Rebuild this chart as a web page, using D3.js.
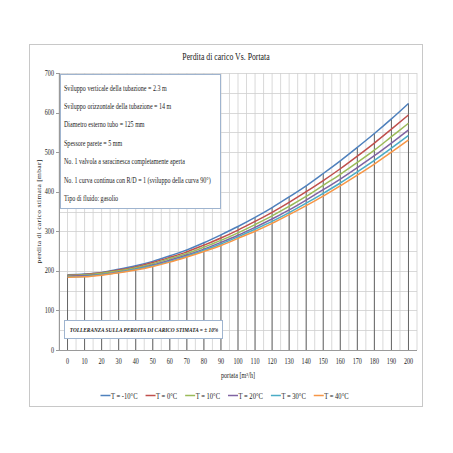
<!DOCTYPE html>
<html>
<head>
<meta charset="utf-8">
<script src="https://cdn.jsdelivr.net/npm/d3@7"></script>
<style>
  body { margin: 0; background: #fff; }
  text { font-family: "Liberation Serif", "Times New Roman", serif; fill: #222; }
</style>
</head>
<body>
<div id="chart"></div>
<script>
// portata [m3/h]
const portata = [0, 10, 20, 30, 40, 50, 60, 70, 80, 90, 100, 110, 120, 130, 140, 150, 160, 170, 180, 190, 200];

// perdita di carico [mbar] for each temperature
const tMinus10 = [190, 192, 196, 204, 213, 224, 238, 253, 271, 291, 312, 335, 360, 387, 415, 446, 478, 512, 547, 584, 623];
const t0 = [189, 191, 195, 202, 210, 221, 234, 248, 265, 283, 303, 325, 348, 373, 400, 428, 458, 490, 523, 558, 594];
const t10 = [188, 190, 194, 200, 208, 218, 231, 244, 260, 277, 296, 317, 339, 363, 388, 416, 444, 474, 505, 539, 573];
const t20 = [186, 188, 191, 197, 205, 215, 227, 240, 255, 272, 290, 310, 331, 354, 379, 405, 432, 461, 491, 523, 556];
const t30 = [185, 186, 190, 196, 204, 213, 224, 237, 252, 268, 286, 305, 325, 347, 371, 396, 422, 450, 479, 510, 542];
const t40 = [184, 185, 189, 195, 202, 211, 222, 235, 249, 264, 282, 300, 320, 342, 365, 389, 415, 442, 470, 500, 531];

const seriesNames = ["T = -10°C", "T = 0°C", "T = 10°C", "T = 20°C", "T = 30°C", "T = 40°C"];
const seriesValues = [tMinus10, t0, t10, t20, t30, t40];
const seriesColors = ["#4F81BD", "#C0504D", "#9BBB59", "#8064A2", "#4BACC6", "#F79646"];

const yTicks = [0, 100, 200, 300, 400, 500, 600, 700];

const infoLines = [
  "Sviluppo verticale della tubazione = 2.3 m",
  "Sviluppo orizzontale della tubazione = 14 m",
  "Diametro esterno tubo = 125 mm",
  "Spessore parete = 5 mm",
  "No. 1 valvola a saracinesca completamente aperta",
  "No. 1 curva continua con R/D = 1 (sviluppo della curva 90°)",
  "Tipo di fluido: gasolio"
];

const W = 453, H = 453;
const SX = 0.82; // the text in the picture is narrow
const plot = { left: 59, right: 417, top: 73, bottom: 350 };

const svg = d3.select("#chart").append("svg")
  .attr("width", W).attr("height", H);

svg.append("rect").attr("width", W).attr("height", H).attr("fill", "#fff");

// chart frame
svg.append("rect")
  .attr("x", 29.5).attr("y", 44.5).attr("width", 393).attr("height", 362)
  .attr("fill", "none").attr("stroke", "#c8c8c8");

const x = d3.scaleLinear().domain([-5, 205]).range([plot.left, plot.right]);
const y = d3.scaleLinear().domain([0, 700]).range([plot.bottom, plot.top]);

// text with horizontal squeeze
const label = (g, px, py, s, size, anchor) =>
  g.append("text")
    .attr("transform", `translate(${px},${py}) scale(${SX},1)`)
    .attr("font-size", size)
    .attr("text-anchor", anchor || "start")
    .text(s);

// gridlines
const grid = svg.append("g").attr("stroke", "#cfcfcf").attr("stroke-width", 0.8);
grid.selectAll("line.h")
  .data(d3.range(0, 701, 50))
  .join("line")
  .attr("x1", plot.left).attr("x2", plot.right)
  .attr("y1", (d) => Math.round(y(d)) + 0.5).attr("y2", (d) => Math.round(y(d)) + 0.5);
grid.selectAll("line.v")
  .data(d3.range(-5, 206, 5))
  .join("line")
  .attr("y1", plot.top).attr("y2", plot.bottom)
  .attr("x1", (d) => x(d)).attr("x2", (d) => x(d));

// drop lines from the highest curve down to the axis
svg.append("g")
  .selectAll("line")
  .data(portata)
  .join("line")
  .attr("x1", (d) => x(d)).attr("x2", (d) => x(d))
  .attr("y1", (d, i) => y(d3.max(seriesValues, (s) => s[i])))
  .attr("y2", plot.bottom)
  .attr("stroke", "#666").attr("stroke-width", 1);

// axes
const axisG = svg.append("g").attr("stroke", "#9a9a9a").attr("stroke-width", 1);
axisG.append("line").attr("x1", plot.left + 0.5).attr("x2", plot.left + 0.5)
  .attr("y1", plot.top).attr("y2", plot.bottom);
axisG.append("line").attr("x1", plot.left).attr("x2", plot.right)
  .attr("y1", plot.bottom + 0.5).attr("y2", plot.bottom + 0.5);
axisG.selectAll("line.yt")
  .data(yTicks)
  .join("line")
  .attr("x1", plot.left - 3).attr("x2", plot.left)
  .attr("y1", (d) => Math.round(y(d)) + 0.5).attr("y2", (d) => Math.round(y(d)) + 0.5);

const tickG = svg.append("g");
yTicks.forEach((d) => label(tickG, plot.left - 5, y(d) + 2.5, d, 7.5, "end"));
portata.forEach((d) => label(tickG, x(d), 363.5, d, 7.5, "middle"));

// curves
const line = d3.line()
  .x((d, i) => x(portata[i]))
  .y((d) => y(d))
  .curve(d3.curveMonotoneX);

svg.append("g")
  .selectAll("path")
  .data(seriesValues)
  .join("path")
  .attr("d", line)
  .attr("fill", "none")
  .attr("stroke", (d, i) => seriesColors[i])
  .attr("stroke-width", 1.5);

// title and axis titles
label(svg, 226, 60, "Perdita di carico Vs. Portata", 9.5, "middle");
label(svg, 238, 377.5, "portata [m³/h]", 7.5, "middle");
svg.append("text")
  .attr("transform", `translate(40.5,${(plot.top + plot.bottom) / 2}) rotate(-90) scale(1,${SX})`)
  .attr("font-size", 7.5)
  .attr("text-anchor", "middle")
  .attr("letter-spacing", 0.3)
  .text("perdita di carico stimata [mbar]");

// info box
const info = svg.append("g");
info.append("rect")
  .attr("x", 60.5).attr("y", 74.5).attr("width", 160).attr("height", 134)
  .attr("fill", "#fff").attr("stroke", "#9fb4cf");
infoLines.forEach((s, i) => label(info, 64, 90.5 + i * 18.4, s, 7.4));

// tolerance box
const tol = svg.append("g");
tol.append("rect")
  .attr("x", 64.5).attr("y", 320.5).attr("width", 158).attr("height", 18)
  .attr("fill", "#fff").attr("stroke", "#9fb4cf");
label(tol, 144, 332, "TOLLERANZA SULLA PERDITA DI CARICO STIMATA = ± 10%", 6.5, "middle")
  .attr("font-weight", "bold").attr("font-style", "italic");

// legend
const legend = svg.append("g");
let lx = 100.5;
seriesNames.forEach((name, i) => {
  legend.append("line")
    .attr("x1", lx).attr("x2", lx + 10)
    .attr("y1", 395.5).attr("y2", 395.5)
    .attr("stroke", seriesColors[i]).attr("stroke-width", 1.5);
  const t = label(legend, lx + 10.5, 398.5, name, 8);
  lx += 10.5 + t.node().getComputedTextLength() * SX + 8;
});
</script>
</body>
</html>
